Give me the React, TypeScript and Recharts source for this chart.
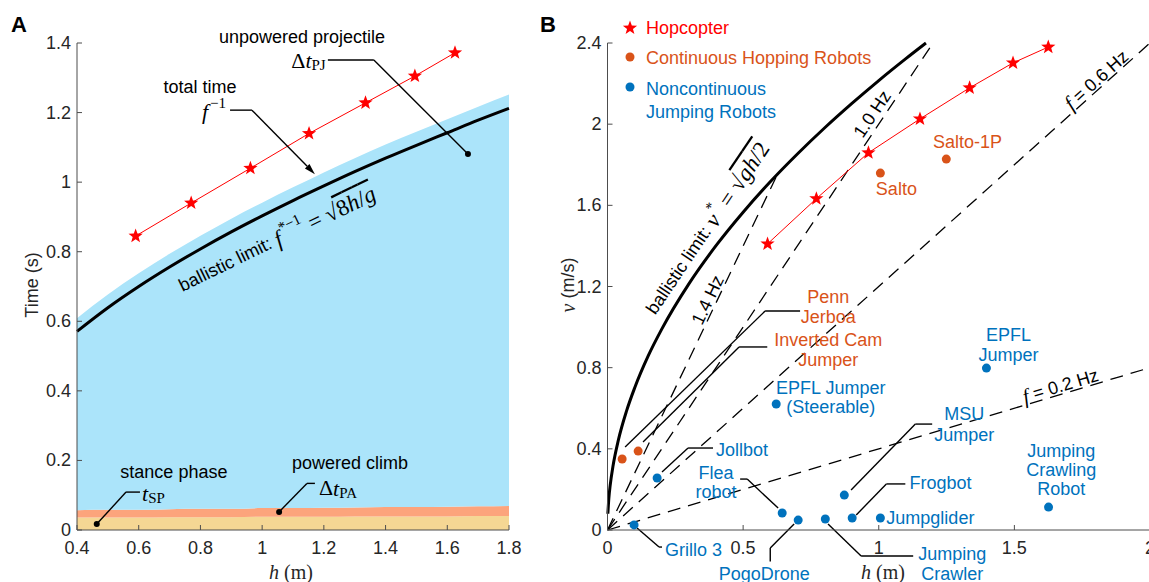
import React from "react";
import {
  ComposedChart,
  Area,
  Line,
  Scatter,
  XAxis,
  YAxis,
  ReferenceLine,
  ReferenceDot,
} from "recharts";

const SANS = '"Liberation Sans", Arial, Helvetica, sans-serif';
const SERIF = '"Liberation Serif", "Times New Roman", serif';
const INK = "#262626";
const AXIS = "#4d4d4d";
const RED = "#ff0000";
const ORANGE = "#d95319";
const BLUE = "#0072bd";
const FS = 18;
const MATH = 23;

// panel A: time budget of one hop vs. apex height h (m)
const gridH = [0.4, 0.5, 0.6, 0.7, 0.8, 0.9, 1.0, 1.1, 1.2, 1.3, 1.4, 1.5, 1.6, 1.7, 1.8];
const stanceT = [0.036, 0.036, 0.036, 0.037, 0.037, 0.037, 0.038, 0.038, 0.038, 0.039, 0.039, 0.039, 0.039, 0.04, 0.04];
const climbT = [0.021, 0.022, 0.022, 0.023, 0.024, 0.024, 0.025, 0.025, 0.026, 0.026, 0.027, 0.027, 0.028, 0.028, 0.029];
const projectileT = [0.552, 0.619, 0.68, 0.734, 0.785, 0.834, 0.878, 0.922, 0.964, 1.004, 1.042, 1.079, 1.114, 1.149, 1.183];
const ballisticT = [0.571, 0.639, 0.7, 0.756, 0.808, 0.857, 0.903, 0.947, 0.989, 1.03, 1.069, 1.106, 1.142, 1.178, 1.212];

// Hopcopter measurements (same hops in both panels)
const hopH = [0.59, 0.77, 0.962, 1.152, 1.335, 1.495, 1.625];
const hopT = [0.845, 0.94, 1.04, 1.14, 1.228, 1.305, 1.372];
const hopV = [1.41, 1.633, 1.859, 2.026, 2.179, 2.302, 2.38];

// panel B: ballistic limit + constant frequency lines
const limitH = [0.0013, 0.005, 0.01, 0.02, 0.04, 0.07, 0.1, 0.15, 0.2, 0.3, 0.4, 0.5, 0.6, 0.7, 0.8, 0.9, 1.0, 1.1, 1.174];
const limitV = [0.08, 0.157, 0.221, 0.313, 0.443, 0.586, 0.7, 0.858, 0.99, 1.213, 1.401, 1.566, 1.716, 1.853, 1.981, 2.101, 2.215, 2.323, 2.4];
const freqHz = ["0.2", "0.6", "1.0", "1.4"];
const freqEndH = [2.0, 2.0, 1.2, 0.626];
const freqEndV = [0.8, 2.4, 2.4, 1.752];

const contNames = ["Penn Jerboa", "Inverted Cam Jumper", "Salto", "Salto-1P"];
const contH = [0.054, 0.113, 1.006, 1.249];
const contV = [0.35, 0.389, 1.759, 1.828];

const nonNames = [
  "Grillo 3",
  "Jollbot",
  "EPFL Jumper (Steerable)",
  "Flea robot",
  "PogoDrone",
  "Jumping Crawler",
  "MSU Jumper",
  "Frogbot",
  "Jumpglider",
  "EPFL Jumper",
  "Jumping Crawling Robot",
];
const nonH = [0.098, 0.183, 0.622, 0.644, 0.703, 0.803, 0.873, 0.902, 1.006, 1.397, 1.626];
const nonV = [0.025, 0.256, 0.621, 0.084, 0.049, 0.054, 0.172, 0.059, 0.059, 0.798, 0.113];

const ticksAX = [0.4, 0.6, 0.8, 1, 1.2, 1.4, 1.6, 1.8];
const ticksAY = [0, 0.2, 0.4, 0.6, 0.8, 1, 1.2, 1.4];
const ticksBX = [0, 0.5, 1, 1.5, 2];
const ticksBY = [0, 0.4, 0.8, 1.2, 1.6, 2, 2.4];

// rows for recharts
const areaRows = gridH.map((h, i) => ({ h, stance: stanceT[i], climb: climbT[i], proj: projectileT[i] }));
const limitARows = gridH.map((h, i) => ({ h, t: ballisticT[i] }));
const hopARows = hopH.map((h, i) => ({ h, t: hopT[i] }));
const hopBRows = hopH.map((h, i) => ({ h, v: hopV[i] }));
const limitBRows = limitH.map((h, i) => ({ h, v: limitV[i] }));
const freqRows = freqHz.map((_, i) => [
  { h: 0, v: 0 },
  { h: freqEndH[i], v: freqEndV[i] },
]);
const contRows = contNames.map((name, i) => ({ name, h: contH[i], v: contV[i] }));
const nonRows = nonNames.map((name, i) => ({ name, h: nonH[i], v: nonV[i] }));

const starPoints = (cx: number, cy: number, R = 7.5, r = 3.1) => {
  const pts: string[] = [];
  for (let k = 0; k < 10; k++) {
    const a = -Math.PI / 2 + (k * Math.PI) / 5;
    const rad = k % 2 === 0 ? R : r;
    pts.push(`${cx + rad * Math.cos(a)},${cy + rad * Math.sin(a)}`);
  }
  return pts.join(" ");
};

const Star = (p: any) => <polygon key={`s${p.index}`} points={starPoints(p.cx, p.cy)} fill={RED} />;
const dotShape = (color: string) => (p: any) => <circle cx={p.cx} cy={p.cy} r={4.5} fill={color} />;

// ticks point inwards (matlab style)
const LeftTick = (p: any) => (
  <g>
    <line x1={p.x} y1={p.y} x2={p.x + 5} y2={p.y} stroke={AXIS} />
    <text x={p.x - 6} y={p.y} textAnchor="end" dominantBaseline="central" fontFamily={SANS} fontSize={FS} fill={INK}>
      {p.payload.value}
    </text>
  </g>
);
const BottomTick = (p: any) => (
  <g>
    <line x1={p.x} y1={p.y} x2={p.x} y2={p.y - 5} stroke={AXIS} />
    <text x={p.x} y={p.y + 18} textAnchor="middle" dominantBaseline="central" fontFamily={SANS} fontSize={FS} fill={INK}>
      {p.payload.value}
    </text>
  </g>
);

// annotations placed in data coordinates
const note = (key: string, x: number, y: number, draw: (cx: number, cy: number) => React.ReactNode) => (
  <ReferenceDot
    key={key}
    x={x}
    y={y}
    r={1}
    fill="none"
    stroke="none"
    ifOverflow="visible"
    shape={(p: any) => <g>{draw(p.cx, p.cy)}</g>}
  />
);

const textLines =
  (rows: string[], color: string, gap = 20, anchor: "start" | "middle" | "end" = "middle") =>
  (cx: number, cy: number) =>
    (
      <text x={cx} y={cy} textAnchor={anchor} fontFamily={SANS} fontSize={FS} fill={color}>
        {rows.map((r, k) => (
          <tspan key={k} x={cx} y={cy + k * gap} dominantBaseline="central">
            {r}
          </tspan>
        ))}
      </text>
    );

const leader = (key: string, pts: number[][]) =>
  pts.slice(1).map((q, k) => (
    <ReferenceLine
      key={`${key}-${k}`}
      segment={[
        { x: pts[k][0], y: pts[k][1] },
        { x: q[0], y: q[1] },
      ]}
      stroke="#000"
      strokeWidth={1.4}
      ifOverflow="visible"
    />
  ));

const ArrowShape = (p: any) => {
  const { x1, y1, x2, y2 } = p;
  const a = Math.atan2(y2 - y1, x2 - x1);
  const L = 11;
  const W = 3.2;
  const bx = x2 - L * Math.cos(a);
  const by = y2 - L * Math.sin(a);
  const nx = -Math.sin(a) * W;
  const ny = Math.cos(a) * W;
  return (
    <g>
      <line x1={x1} y1={y1} x2={bx} y2={by} stroke="#000" strokeWidth={1.4} />
      <polygon points={`${x2},${y2} ${bx + nx},${by + ny} ${bx - nx},${by - ny}`} fill="#000" />
    </g>
  );
};

const endDot = (key: string, x: number, y: number) => (
  <ReferenceDot key={key} x={x} y={y} r={3} fill="#000" stroke="none" ifOverflow="visible" />
);

const rotated = (angle: number, children: React.ReactNode) => (cx: number, cy: number) =>
  (
    <text
      x={cx}
      y={cy}
      transform={`rotate(${angle} ${cx} ${cy})`}
      textAnchor="middle"
      dominantBaseline="central"
      fontFamily={SANS}
      fontSize={FS}
      fill="#000"
    >
      {children}
    </text>
  );

function PanelA() {
  return (
    <ComposedChart width={540} height={582} data={areaRows} margin={{ top: 43, right: 31, bottom: 12, left: 37 }}>
      <XAxis
        dataKey="h"
        type="number"
        domain={[0.4, 1.8]}
        ticks={ticksAX}
        stroke={AXIS}
        tickLine={false}
        tickSize={0}
        tickMargin={0}
        tick={BottomTick}
        height={40}
        interval={0}
      />
      <YAxis
        type="number"
        domain={[0, 1.4]}
        ticks={ticksAY}
        stroke={AXIS}
        tickLine={false}
        tickSize={0}
        tickMargin={0}
        tick={LeftTick}
        width={40}
        interval={0}
      />
      <Area dataKey="stance" stackId="a" type="monotone" fill="#f5d794" fillOpacity={1} stroke="none" isAnimationActive={false} />
      <Area dataKey="climb" stackId="a" type="monotone" fill="#fca47c" fillOpacity={1} stroke="none" isAnimationActive={false} />
      <Area dataKey="proj" stackId="a" type="monotone" fill="#abe4fa" fillOpacity={1} stroke="none" isAnimationActive={false} />
      <Line data={limitARows} dataKey="t" type="monotone" stroke="#000" strokeWidth={3} dot={false} isAnimationActive={false} />
      <Line data={hopARows} dataKey="t" type="linear" stroke={RED} strokeWidth={1} dot={Star} isAnimationActive={false} />

      {note("ballA", 1.048, 0.836, rotated(-26, [
        <tspan key="a">ballistic limit: </tspan>,
        <tspan key="b" fontFamily={SERIF} fontStyle="italic" fontSize={MATH}>f</tspan>,
        <tspan key="c" fontFamily={SERIF} fontSize={15} dx={2} dy={-9}>{"*\u22121"}</tspan>,
        <tspan key="d" fontFamily={SERIF} fontSize={MATH} dy={9}>{" = \u221A"}</tspan>,
        <tspan key="e" fontFamily={SERIF} fontSize={MATH} textDecoration="overline">
          8<tspan fontStyle="italic">h</tspan>/<tspan fontStyle="italic">g</tspan>
        </tspan>,
      ]))}

      {note("upj", 1.129, 1.417, textLines(["unpowered projectile"], "#000"))}
      {note("dtpj", 1.206, 1.351, (cx, cy) => (
        <text x={cx} y={cy} textAnchor="end" dominantBaseline="central" fontFamily={SERIF} fontSize={22} fill="#000">
          {"\u0394"}
          <tspan fontStyle="italic">t</tspan>
          <tspan fontSize={15} dy={5}>PJ</tspan>
        </text>
      ))}
      {leader("lpj", [[1.213, 1.351], [1.362, 1.351], [1.667, 1.081]])}
      {endDot("dpj", 1.667, 1.081)}

      {note("tt", 0.799, 1.273, textLines(["total time"], "#000"))}
      {note("finv", 0.883, 1.204, (cx, cy) => (
        <text x={cx} y={cy} textAnchor="end" dominantBaseline="central" fontFamily={SERIF} fontSize={22} fill="#000">
          <tspan fontStyle="italic">f</tspan>
          <tspan fontSize={15} dx={2} dy={-8}>{"\u22121"}</tspan>
        </text>
      ))}
      {leader("ltt", [[0.896, 1.207], [0.967, 1.207]])}
      <ReferenceLine
        segment={[
          { x: 0.967, y: 1.207 },
          { x: 1.171, y: 1.023 },
        ]}
        ifOverflow="visible"
        shape={ArrowShape}
      />

      {note("sp", 0.714, 0.167, textLines(["stance phase"], "#000"))}
      {note("tsp", 0.611, 0.106, (cx, cy) => (
        <text x={cx} y={cy} textAnchor="start" dominantBaseline="central" fontFamily={SERIF} fontSize={22} fill="#000">
          <tspan fontStyle="italic">t</tspan>
          <tspan fontSize={15} dy={5}>SP</tspan>
        </text>
      ))}
      {leader("lsp", [[0.464, 0.017], [0.559, 0.109], [0.604, 0.109]])}
      {endDot("dsp", 0.464, 0.017)}

      {note("pc", 1.285, 0.193, textLines(["powered climb"], "#000"))}
      {note("dtpa", 1.184, 0.121, (cx, cy) => (
        <text x={cx} y={cy} textAnchor="start" dominantBaseline="central" fontFamily={SERIF} fontSize={22} fill="#000">
          {"\u0394"}
          <tspan fontStyle="italic">t</tspan>
          <tspan fontSize={15} dy={5}>PA</tspan>
        </text>
      ))}
      {leader("lpa", [[1.055, 0.052], [1.145, 0.134], [1.171, 0.134]])}
      {endDot("dpa", 1.055, 0.052)}
    </ComposedChart>
  );
}

function PanelB() {
  return (
    <ComposedChart width={610} height={582} margin={{ top: 43, right: 8, bottom: 12, left: 19.5 }}>
      <XAxis
        dataKey="h"
        type="number"
        domain={[0, 2]}
        ticks={ticksBX}
        stroke={AXIS}
        tickLine={false}
        tickSize={0}
        tickMargin={0}
        tick={BottomTick}
        height={40}
        interval={0}
      />
      <YAxis
        type="number"
        domain={[0, 2.4]}
        ticks={ticksBY}
        stroke={AXIS}
        tickLine={false}
        tickSize={0}
        tickMargin={0}
        tick={LeftTick}
        width={40}
        interval={0}
      />
      {freqRows.map((rows, i) => (
        <Line
          key={`f${i}`}
          data={rows}
          dataKey="v"
          type="linear"
          stroke="#000"
          strokeWidth={1.3}
          strokeDasharray="13 8"
          dot={false}
          isAnimationActive={false}
        />
      ))}
      <Line data={limitBRows} dataKey="v" type="monotone" stroke="#000" strokeWidth={3} dot={false} isAnimationActive={false} />
      <Line data={hopBRows} dataKey="v" type="linear" stroke={RED} strokeWidth={1} dot={Star} isAnimationActive={false} />
      <Scatter data={contRows} dataKey="v" shape={dotShape(ORANGE)} isAnimationActive={false} />
      <Scatter data={nonRows} dataKey="v" shape={dotShape(BLUE)} isAnimationActive={false} />

      {note("ballB", 0.367, 1.488, rotated(-56, [
        <tspan key="a">ballistic limit: </tspan>,
        <tspan key="b" fontFamily={SERIF} fontStyle="italic" fontSize={MATH}>{"\u03BD"}</tspan>,
        <tspan key="c" fontFamily={SERIF} fontSize={15} dx={1} dy={-9}>*</tspan>,
        <tspan key="d" fontFamily={SERIF} fontSize={MATH} dy={9}>{" = \u221A"}</tspan>,
        <tspan key="e" fontFamily={SERIF} fontSize={MATH} textDecoration="overline">
          <tspan fontStyle="italic">gh</tspan>/2
        </tspan>,
      ]))}

      {note("hz14", 0.37, 1.134, rotated(-64.5, `${freqHz[3]} Hz`))}
      {note("hz10", 0.976, 2.05, rotated(-56.3, `${freqHz[2]} Hz`))}
      {note("hz06", 1.803, 2.218, rotated(-41.9, [
        <tspan key="a" fontFamily={SERIF} fontStyle="italic" fontSize={21}>f</tspan>,
        <tspan key="b">{` = ${freqHz[1]} Hz`}</tspan>,
      ]))}
      {note("hz02", 1.67, 0.71, rotated(-16.7, [
        <tspan key="a" fontFamily={SERIF} fontStyle="italic" fontSize={21}>f</tspan>,
        <tspan key="b">{` = ${freqHz[0]} Hz`}</tspan>,
      ]))}

      {/* continuous hopping robots */}
      {note("penn", 0.814, 1.148, textLines(["Penn", "Jerboa"], ORANGE))}
      {leader("lpenn", [[0.71, 1.079], [0.581, 1.079], [0.065, 0.409]])}
      {note("icj", 0.814, 0.936, textLines(["Inverted Cam", "Jumper"], ORANGE))}
      {leader("licj", [[0.589, 0.902], [0.485, 0.902], [0.131, 0.434]])}
      {note("salto", 1.065, 1.681, textLines(["Salto"], ORANGE))}
      {note("salto1p", 1.327, 1.912, textLines(["Salto-1P"], ORANGE))}

      {/* noncontinuous jumping robots */}
      {note("epfls", 0.823, 0.7, textLines(["EPFL Jumper", "(Steerable)"], BLUE, 19))}
      {note("epfl", 1.478, 0.961, textLines(["EPFL", "Jumper"], BLUE))}
      {note("msu", 1.315, 0.572, textLines(["MSU", "Jumper"], BLUE, 21))}
      {leader("lmsu", [[1.197, 0.522], [1.135, 0.522], [0.898, 0.197]])}
      {note("joll", 0.4, 0.394, textLines(["Jollbot"], BLUE, 20, "start"))}
      {leader("ljoll", [[0.389, 0.404], [0.297, 0.404], [0.201, 0.286]])}
      {note("flea", 0.4, 0.281, textLines(["Flea", "robot"], BLUE, 19))}
      {leader("lflea", [[0.489, 0.251], [0.515, 0.251], [0.629, 0.108]])}
      {note("grillo", 0.212, -0.099, textLines(["Grillo 3"], BLUE, 20, "start"))}
      {leader("lgrillo", [[0.109, 0.01], [0.19, -0.084], [0.201, -0.084]])}
      {note("pogo", 0.578, -0.216, textLines(["PogoDrone"], BLUE))}
      {leader("lpogo", [[0.688, 0.03], [0.6, -0.089], [0.6, -0.155]])}
      {note("jc", 1.271, -0.12, textLines(["Jumping", "Crawler"], BLUE))}
      {leader("ljc", [[0.813, 0.03], [0.935, -0.128], [1.127, -0.128]])}
      {note("frog", 1.113, 0.232, textLines(["Frogbot"], BLUE, 20, "start"))}
      {leader("lfrog", [[1.098, 0.227], [1.028, 0.227], [0.917, 0.074]])}
      {note("jg", 1.028, 0.059, textLines(["Jumpglider"], BLUE, 20, "start"))}
      {note("jcr", 1.673, 0.389, textLines(["Jumping", "Crawling", "Robot"], BLUE, 19))}
    </ComposedChart>
  );
}

function Overlay() {
  return (
    <svg width={1149} height={582} style={{ position: "absolute", left: 0, top: 0, pointerEvents: "none" }}>
      <text x={11} y={32} fontFamily={SANS} fontWeight="bold" fontSize={22} fill="#000">A</text>
      <text x={540} y={32} fontFamily={SANS} fontWeight="bold" fontSize={22} fill="#000">B</text>

      <text x={32} y={285} transform="rotate(-90 32 285)" textAnchor="middle" dominantBaseline="central" fontFamily={SANS} fontSize={FS} fill={INK}>
        Time (s)
      </text>
      <text x={291} y={572} textAnchor="middle" dominantBaseline="central" fontFamily={SERIF} fontSize={20} fill={INK}>
        <tspan fontStyle="italic">h</tspan>
        {"  (m)"}
      </text>

      <text x={568} y={285} transform="rotate(-90 568 285)" textAnchor="middle" dominantBaseline="central" fontFamily={SANS} fontSize={FS} fill={INK}>
        <tspan fontFamily={SERIF} fontStyle="italic" fontSize={20}>{"\u03BD"}</tspan>
        {" (m/s)"}
      </text>
      <text x={883} y={572} textAnchor="middle" dominantBaseline="central" fontFamily={SERIF} fontSize={20} fill={INK}>
        <tspan fontStyle="italic">h</tspan>
        {"  (m)"}
      </text>

      {/* legend */}
      <polygon points={starPoints(630, 28)} fill={RED} />
      <text x={646} y={28} dominantBaseline="central" fontFamily={SANS} fontSize={FS} fill={RED}>Hopcopter</text>
      <circle cx={630} cy={57} r={4.5} fill={ORANGE} />
      <text x={646} y={58} dominantBaseline="central" fontFamily={SANS} fontSize={FS} fill={ORANGE}>Continuous Hopping Robots</text>
      <circle cx={630} cy={87} r={4.5} fill={BLUE} />
      <text x={646} y={89} dominantBaseline="central" fontFamily={SANS} fontSize={FS} fill={BLUE}>Noncontinuous</text>
      <text x={646} y={112} dominantBaseline="central" fontFamily={SANS} fontSize={FS} fill={BLUE}>Jumping Robots</text>
    </svg>
  );
}

export default function App() {
  return (
    <div style={{ position: "absolute", left: 0, top: 0, width: 1149, height: 582, overflow: "hidden", background: "#fff" }}>
      <div style={{ position: "absolute", left: 0, top: 0 }}>
        <PanelA />
      </div>
      <div style={{ position: "absolute", left: 548, top: 0 }}>
        <PanelB />
      </div>
      <Overlay />
    </div>
  );
}
